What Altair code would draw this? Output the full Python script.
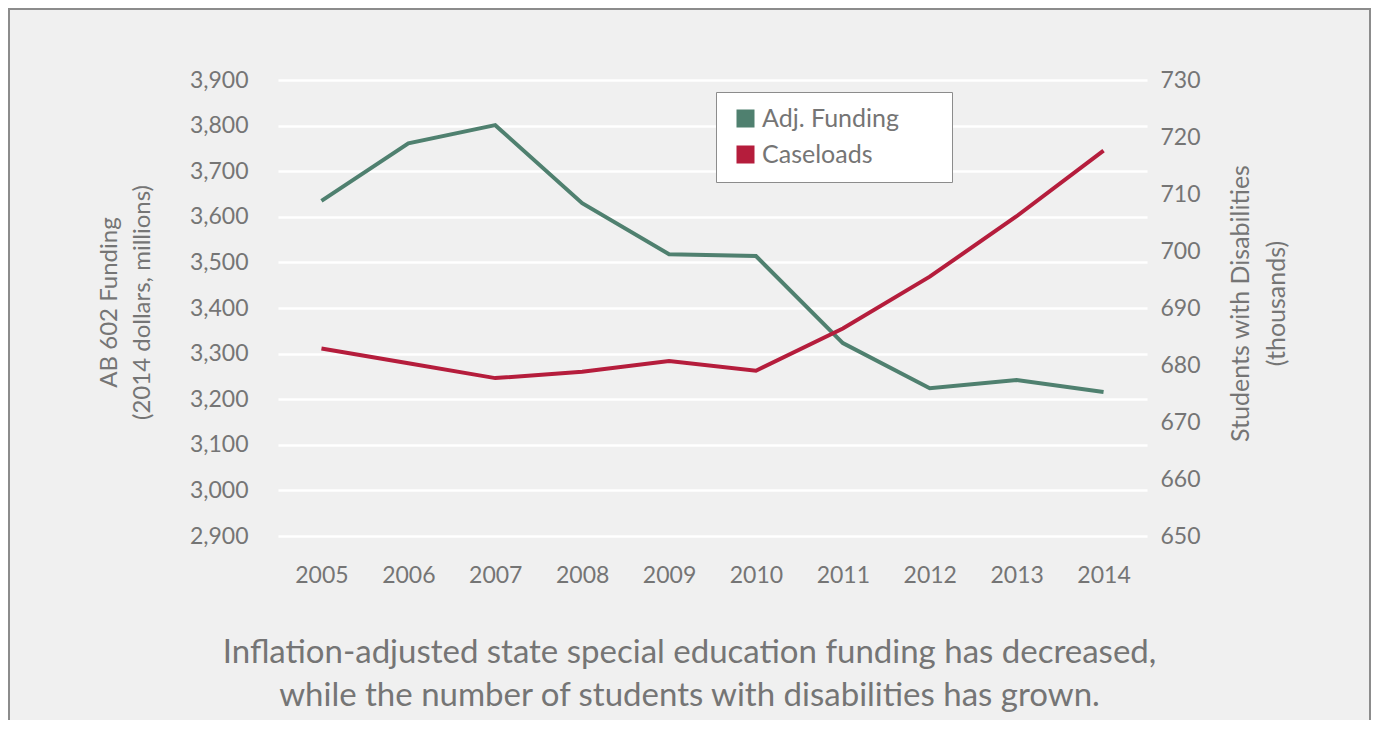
import altair as alt
import pandas as pd

years = ["2005", "2006", "2007", "2008", "2009", "2010", "2011", "2012", "2013", "2014"]
funding = [3635, 3761, 3801, 3630, 3518, 3514, 3323, 3224, 3242, 3216]
caseloads = [682.9, 680.3, 677.7, 678.8, 680.7, 679.0, 686.4, 695.5, 706.1, 717.6]
series_names = ["Adj. Funding", "Caseloads"]
series_colors = ["#4f806f", "#b51d3c"]
caption = ["Inflation-adjusted state special education funding has decreased,",
           "while the number of students with disabilities has grown."]

df = pd.DataFrame({"year": years, "funding": funding, "caseloads": caseloads})

FONT = "Lato"
GRAY = "#757575"
PW, PH = 869, 456

# solid-looking square legend swatch drawn as a stack of stroked horizontal lines
swatch_path = "".join(
    f"M-1.125,{-1 + k * 0.125:.4f}H1.125" for k in range(17)
)

color_scale = alt.Scale(domain=series_names, range=series_colors)

x_enc = alt.X(
    "year:O",
    scale=alt.Scale(type="point", padding=0.5),
    axis=alt.Axis(title=caption, titleX=411, titleY=126, titleAlign="center",
                  titleBaseline="alphabetic", titleFontSize=33, titleFont=FONT,
                  titleColor=GRAY, titleFontWeight="normal", titleLineHeight=43,
                  labelAngle=0, ticks=False, domain=False,
                  labelPadding=28, labelFontSize=23, labelColor=GRAY, labelFont=FONT),
)

base = alt.Chart(df)

fund_line = base.transform_calculate(series="'Adj. Funding'").mark_line(strokeWidth=4).encode(
    x=x_enc,
    y=alt.Y(
        "funding:Q",
        scale=alt.Scale(domain=[2900, 3900], nice=False, zero=False),
        axis=alt.Axis(
            orient="left", values=list(range(2900, 4000, 100)), format=",d",
            title=["AB 602 Funding", "(2014 dollars, millions)"],
            titleAngle=270, titleX=-169, titleY=222, titleAlign="center",
            titleBaseline="middle", titleFontSize=24, titleFont=FONT,
            titleColor=GRAY, titleFontWeight="normal", titleLineHeight=33,
            labelFontSize=23, labelColor=GRAY, labelFont=FONT, labelPadding=30,
            ticks=False, domain=False, grid=True, gridColor="white", gridWidth=2.5,
        ),
    ),
    color=alt.Color("series:N", scale=color_scale,
                    legend=alt.Legend(
                        title=" ", titleOrient="right", titlePadding=39,
                        orient="none", legendX=438, legendY=12,
                        fillColor="white", strokeColor="#8c8c8c", padding=14,
                        symbolType=swatch_path, symbolSize=256, symbolStrokeWidth=2,
                        labelFontSize=25, labelColor=GRAY, labelFont=FONT,
                        rowPadding=10, labelOffset=4, symbolOffset=3,
                    )),
)

case_line = base.transform_calculate(series="'Caseloads'").mark_line(strokeWidth=4).encode(
    x=x_enc,
    y=alt.Y(
        "caseloads:Q",
        scale=alt.Scale(domain=[650, 730], nice=False, zero=False),
        axis=alt.Axis(
            orient="right", values=list(range(650, 740, 10)),
            title=["Students with Disabilities", "(thousands)"],
            titleAngle=270, titleX=93, titleY=223, titleAlign="center",
            titleBaseline="middle", titleFontSize=25, titleFont=FONT,
            titleColor=GRAY, titleFontWeight="normal", titleLineHeight=36,
            labelFontSize=23, labelColor=GRAY, labelFont=FONT, labelPadding=13,
            ticks=False, domain=False, grid=False,
        ),
    ),
    color=alt.Color("series:N", scale=color_scale),
)

frame = alt.Chart(pd.DataFrame({"f": [0]})).mark_rect(
    fill=None, stroke="#8c8c8c", strokeWidth=2
).encode(
    x=alt.value(-269), x2=alt.value(1092), y=alt.value(-71), y2=alt.value(700)
)

chart = alt.layer(frame, fund_line, case_line).resolve_scale(
    y="independent"
).properties(
    width=PW, height=PH,
    autosize=alt.AutoSizeParams(type="none"),
    padding={"left": 270, "top": 72, "right": 224, "bottom": 184},
).configure(background="#f0f0f0").configure_view(stroke=None)

chart.save("out.html", embed_options={"renderer": "svg", "actions": False})
